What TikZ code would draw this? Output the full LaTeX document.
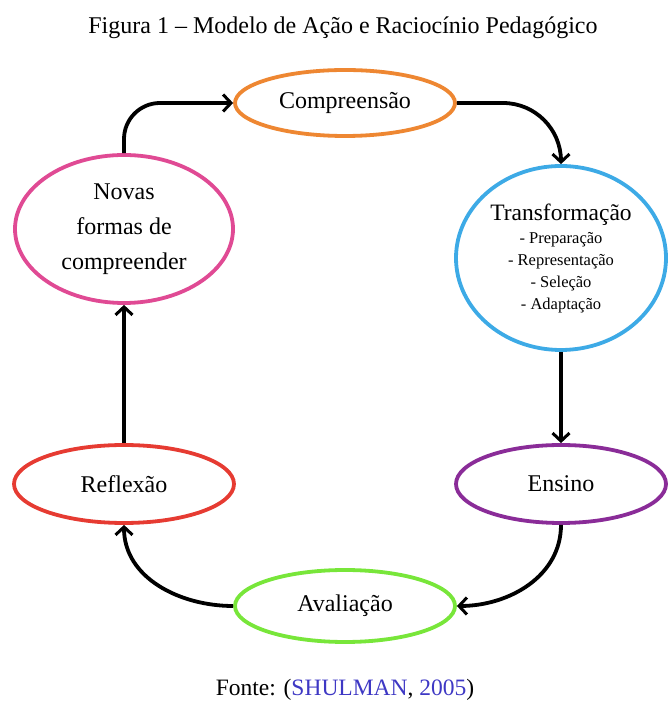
\documentclass[tikz,border=0pt]{standalone}
\usepackage{fontspec}
\setmainfont{Liberation Serif}
\usetikzlibrary{arrows.meta,shapes.geometric}
\definecolor{compcol}{HTML}{EE8732}
\definecolor{novascol}{HTML}{E04A94}
\definecolor{transfcol}{HTML}{3DAAE6}
\definecolor{ensinocol}{HTML}{8A2C98}
\definecolor{reflcol}{HTML}{E63B32}
\definecolor{avalcol}{HTML}{78E63A}
\definecolor{citecol}{HTML}{3E38C4}
\tikzset{
  >={Straight Barb[length=8pt,width=17pt,line width=3pt]},
  every node/.style={font=\fontsize{24}{35}\selectfont},
}
\begin{document}
\begin{tikzpicture}[x=1pt,y=1pt,
    stage/.style={ellipse,line width=3.8pt,fill=white,inner sep=0pt,align=center},
    flow/.style={->,line width=3.8pt,black}]
  \useasboundingbox (0,0) rectangle (667,704);
  \node (title) at (343,676) {\fontsize{24}{28}\selectfont Figura 1 -- Modelo de Ação e Raciocínio Pedagógico};
  \node[stage,draw=compcol,minimum width=220pt,minimum height=66pt] (comp) at (345,601) {Compreensão};
  \node[stage,draw=novascol,minimum width=218pt,minimum height=148pt] (novas) at (124,475)
    {Novas\\formas de\\compreender};
  \node[stage,draw=transfcol,minimum width=210pt,minimum height=184pt,
    font=\fontsize{16.5}{22}\selectfont] (transf) at (561,446)
    {{\fontsize{23.5}{28}\selectfont Transformação}\\[1pt]- Preparação\\- Representação\\- Seleção\\- Adaptação};
  \node[stage,draw=ensinocol,minimum width=210pt,minimum height=78pt] (ensino) at (561,220) {Ensino};
  \node[stage,draw=reflcol,minimum width=220pt,minimum height=78pt] (refl) at (124,220) {Reflexão};
  \node[stage,draw=avalcol,minimum width=220pt,minimum height=72pt] (aval) at (345,98) {Avaliação};
  \node (fonte) at (345,14) {\fontsize{23.5}{28}\selectfont Fonte: (\textcolor{citecol}{SHULMAN}, \textcolor{citecol}{2005})};
  % ciclo
  \draw[flow,rounded corners=36pt] (novas.north) |- (comp.west);
  \draw[flow,rounded corners=58pt] (comp.east) -| (transf.north);
  \draw[flow] (transf.south) -- (ensino.north);
  \draw[flow] (ensino.south) to[out=-90,in=0] (aval.east);
  \draw[flow] (aval.west) to[out=180,in=-90] (refl.south);
  \draw[flow] (refl.north) -- (novas.south);
\end{tikzpicture}
\end{document}
